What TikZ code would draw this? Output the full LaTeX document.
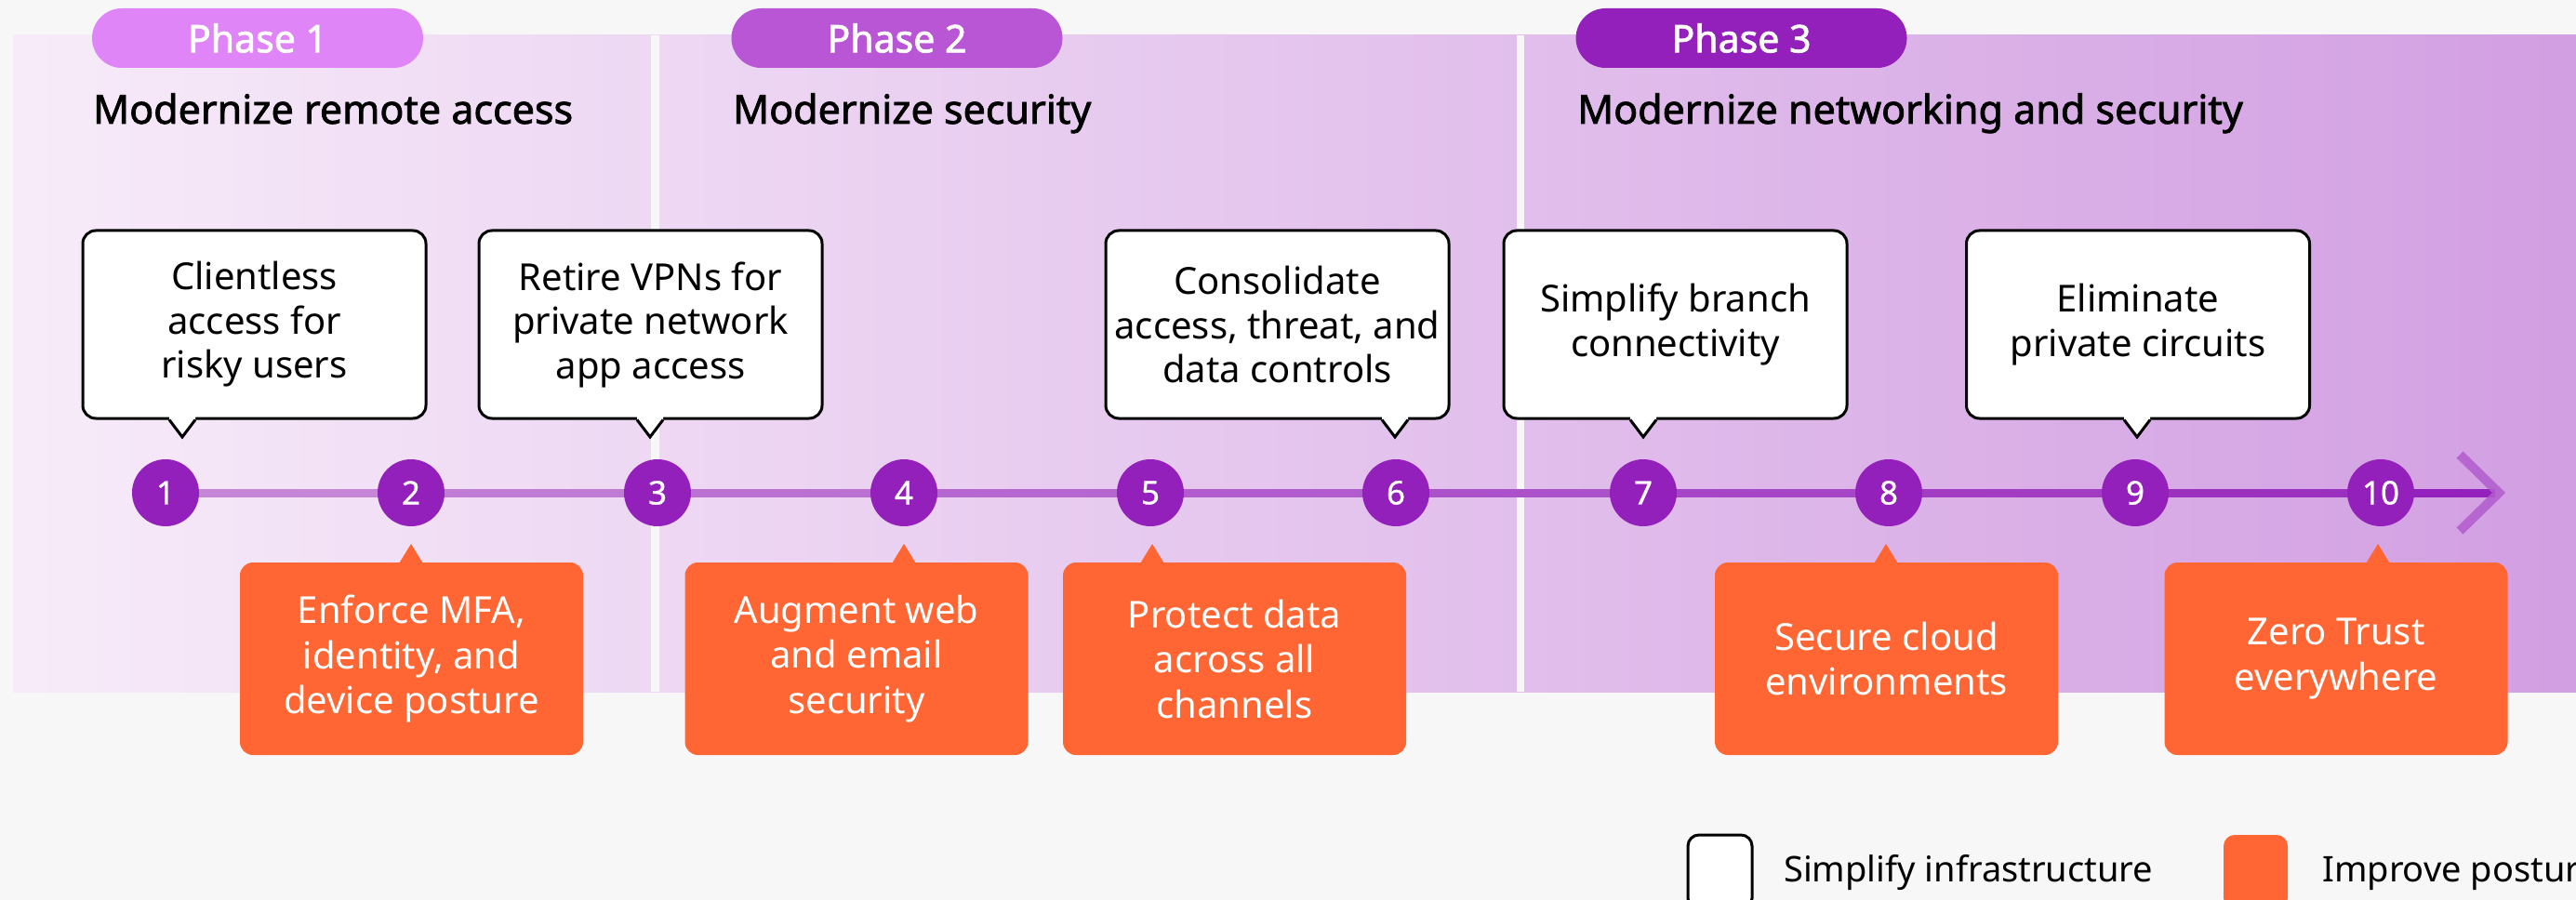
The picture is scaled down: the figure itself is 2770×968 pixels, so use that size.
\documentclass[tikz,border=0pt]{standalone}
\usepackage{fontspec}
\setmainfont{Noto Sans}[BoldFont={Noto Sans}, BoldFeatures={FakeBold=1.8}]
\newfontfamily\mediumfont{Noto Sans}[FakeBold=0.9]
\usetikzlibrary{calc}

\definecolor{bg}{HTML}{F7F7F7}
\definecolor{panelL}{HTML}{F7EBF9}
\definecolor{panelR}{HTML}{D29FE2}
\definecolor{phaseA}{HTML}{DF85F7}
\definecolor{phaseB}{HTML}{B856D5}
\definecolor{phaseC}{HTML}{9420BB}
\definecolor{dot}{HTML}{9420BB}
\definecolor{posture}{HTML}{FF6633}
\definecolor{lineL}{HTML}{C88BDA}
\definecolor{lineR}{HTML}{9421BB}
\definecolor{chev}{HTML}{B25CCF}

\pgfdeclarelayer{back}
\pgfdeclarelayer{mid}
\pgfsetlayers{back,mid,main}

\tikzset{
  pill/.style={fill=#1, rounded corners=32pt, minimum width=356pt, minimum height=64pt,
    inner sep=0pt, text=white, font=\fontsize{41}{46}\selectfont\bfseries},
  phasetitle/.style={anchor=base west, inner sep=0pt, font=\fontsize{43}{48}\selectfont\bfseries},
  dotnode/.style={circle, fill=dot, minimum size=72pt, inner sep=0pt, text=white,
    font=\fontsize{35}{40}\mediumfont},
  simplifybox/.style={draw=black, line width=3pt, fill=white, rounded corners=14pt,
    minimum width=369pt, minimum height=202pt, inner sep=0pt, align=center,
    font=\fontsize{40}{47.5}\selectfont},
  posturebox/.style={fill=posture, rounded corners=14pt, minimum width=369pt,
    minimum height=207pt, inner sep=0pt, align=center, text=white,
    font=\fontsize{40}{48.5}\selectfont},
  legendtext/.style={anchor=base west, inner sep=0pt, font=\fontsize{38}{42}\selectfont},
  legendkey/.style={rounded corners=12pt, minimum width=69pt, minimum height=80pt, inner sep=0pt},
}

% pointer under a white "simplify" box, tip at the given x
\newcommand\simplifytail[2]{%
  \coordinate (#1-tip) at (#2,470);
  \fill[white] ($(#1-tip |- #1.south)+(-14,-4)$) -- ($(#1-tip |- #1.south)+(-14,0)$) -- (#1-tip)
    -- ($(#1-tip |- #1.south)+(14,0)$) -- ($(#1-tip |- #1.south)+(14,-4)$) -- cycle;
  \draw[line width=3pt, line join=miter] ($(#1-tip |- #1.south)+(-14,0)$) -- (#1-tip)
    -- ($(#1-tip |- #1.south)+(14,0)$);
}
% pointer above an orange "posture" box, tip at the given x
\newcommand\posturetail[2]{%
  \coordinate (#1-tip) at (#2,585);
  \fill[posture] ($(#1-tip |- #1.north)+(-14,3)$) -- (#1-tip) -- ($(#1-tip |- #1.north)+(14,3)$) -- cycle;
}

\begin{document}
\begin{tikzpicture}[x=1pt,y=-1pt]
\useasboundingbox (0,0) rectangle (2770,968);

\begin{pgfonlayer}{back}
  \fill[bg] (0,0) rectangle (2770,968);
  \shade[left color=panelL, right color=panelR] (14,38) rectangle (2770,744);
  \fill[bg] (700,38) rectangle (709,744);
  \fill[bg] (1631,38) rectangle (1639,744);
\end{pgfonlayer}

% phase headers
\node[pill=phaseA] (p1) at (277,41) {Phase 1};
\node[pill=phaseB] (p2) at (964.5,41) {Phase 2};
\node[pill=phaseC] (p3) at (1872.5,41) {Phase 3};
\node[phasetitle] (t1) at (100,133) {Modernize remote access};
\node[phasetitle] (t2) at (788,133) {Modernize security};
\node[phasetitle] (t3) at (1696,133) {Modernize networking and security};

% timeline steps
\foreach \i/\x in {1/178,2/442,3/707,4/972,5/1237,6/1501,7/1767,8/2031,9/2296,10/2560}
  \node[dotnode] (n\i) at (\x,530) {\i};
\coordinate (arrowtip) at (2687,530);

\begin{pgfonlayer}{mid}
  \foreach \a/\b [count=\k] in {1/2,2/3,3/4,4/5,5/6,6/7,7/8,8/9,9/10} {
    \pgfmathsetmacro\p{100-(\k-0.5)*10}
    \draw[line width=9pt, color=lineL!\p!lineR] (n\a.center) -- (n\b.center);
  }
  \draw[line width=9pt, color=lineR] (n10.center) -- ($(arrowtip)+(-4,0)$);
  \draw[chev, opacity=.85, line width=10pt, line join=miter]
    ($(arrowtip)+(-42,-41)$) -- (arrowtip) -- ($(arrowtip)+(-42,41)$);
\end{pgfonlayer}

% simplify-infrastructure steps
\node[simplifybox] (c1) at (273.5,349) {Clientless\\access for\\risky users};
\node[simplifybox] (c3) at (699.5,349) {Retire VPNs for\\private network\\app access};
\node[simplifybox] (c6) at (1373.5,349) {Consolidate\\access, threat, and\\data controls};
\node[simplifybox] (c7) at (1801.5,349) {Simplify branch\\connectivity};
\node[simplifybox] (c9) at (2299,349) {Eliminate\\private circuits};
\simplifytail{c1}{196}
\simplifytail{c3}{699}
\simplifytail{c6}{1500}
\simplifytail{c7}{1767}
\simplifytail{c9}{2298}

% improve-posture steps
\node[posturebox] (o2) at (442.5,708.5) {Enforce MFA,\\identity, and\\device posture};
\node[posturebox] (o4) at (921,708.5) {Augment web\\and email\\security};
\node[posturebox] (o5) at (1327.5,708.5) {Protect data\\across all\\channels};
\node[posturebox] (o8) at (2028.5,708.5) {Secure cloud\\environments};
\node[posturebox] (o10) at (2512,708.5) {Zero Trust\\everywhere};
\posturetail{o2}{442}
\posturetail{o4}{972}
\posturetail{o5}{1239}
\posturetail{o8}{2028}
\posturetail{o10}{2557}

% legend
\node[legendkey, draw=black, line width=3pt, fill=white] (k1) at (1849.5,938) {};
\node[legendtext] (l1) at (1918,948) {Simplify infrastructure};
\node[legendkey, fill=posture] (k2) at (2425.5,938) {};
\node[legendtext] (l2) at (2497,948) {Improve posture};
\end{tikzpicture}
\end{document}
